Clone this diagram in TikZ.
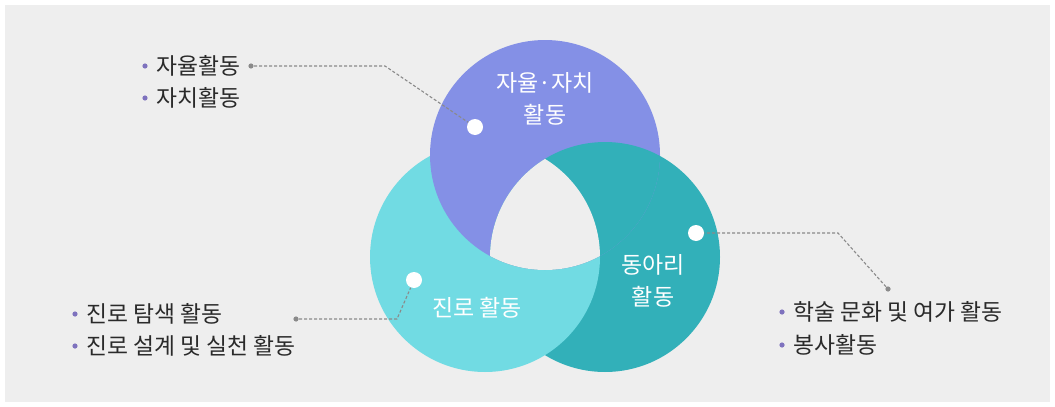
\documentclass[tikz,border=0pt]{standalone}
\usepackage{fontspec}
\setmainfont{Noto Sans CJK KR}
\usetikzlibrary{positioning}
\definecolor{panelgray}{HTML}{EEEEEE}
\definecolor{jachi}{HTML}{8490E6}
\definecolor{jinro}{HTML}{71DBE3}
\definecolor{dongari}{HTML}{32B0B9}
\definecolor{bulletpurple}{HTML}{7E72BE}
\definecolor{leadergray}{HTML}{8A8A8A}
\definecolor{textdark}{HTML}{2A2A2A}
\def\rr{57.5pt}
\tikzset{
  hole/.style={fill=white, circle, minimum size=8pt, inner sep=0},
  tipdot/.style={fill=leadergray, circle, minimum size=2.6pt, inner sep=0},
  bullet/.style={fill=bulletpurple, circle, minimum size=2.6pt, inner sep=0},
  leader/.style={draw=leadergray, dash pattern=on 1.5pt off 1pt, line width=0.55pt},
  circlelabel/.style={white, font=\fontsize{11.5}{16}\selectfont, align=center, inner sep=0},
  item/.style={textdark, font=\fontsize{11.4}{12}\selectfont, anchor=west, inner sep=0},
}
\newcommand\actitem[4]{%
    \node [bullet] (#1) at (#2,#3) {};
    \node [item, right=4pt of #1] (#1text) {#4};
}

\begin{document}
\begin{tikzpicture}[x=0.5pt, y=-0.5pt]

\useasboundingbox (0,0) rectangle (1055,407);
\fill [white] (0,0) rectangle (1055,407);
\fill [panelgray] (5,5) rectangle (1050,402);

% Circles
\coordinate (jachic)   at (545,155);
\coordinate (jinroc)   at (485,257);
\coordinate (dongaric) at (605,257);

\fill [dongari] (dongaric) circle [radius=\rr];
\fill [jinro]   (jinroc)   circle [radius=\rr];
\fill [jachi]   (jachic)   circle [radius=\rr];
\begin{scope}
    \clip (jachic) circle [radius=\rr];
    \fill [dongari] (dongaric) circle [radius=\rr];
\end{scope}
\begin{scope}
    \clip (jachic) circle [radius=\rr];
    \clip (dongaric) circle [radius=\rr];
    \fill [panelgray] (jinroc) circle [radius=\rr];
\end{scope}

\node [circlelabel] (jachilabel)   at (545,99)  {자율·자치\\활동};
\node [circlelabel] (dongarilabel) at (653,281) {동아리\\활동};
\node [circlelabel] (jinrolabel)   at (477,308) {진로 활동};

% Leaders
\node [hole] (jachihole)   at (475,127) {};
\node [hole] (dongarihole) at (696,233) {};
\node [hole] (jinrohole)   at (414,280) {};

\node [tipdot] (jachitip) at (251,66) {};
\coordinate (jachibend) at (385,66);
\node [tipdot] (dongaritip) at (888,289) {};
\coordinate (dongaribend) at (838,233);
\node [tipdot] (jinrotip) at (296,319) {};
\coordinate (jinrobend) at (397,319);

\draw [leader] (jachitip) -- (jachibend) -- (jachihole);
\draw [leader] (dongaritip) -- (dongaribend) -- (dongarihole);
\draw [leader] (jinrotip) -- (jinrobend) -- (jinrohole);

% Lists
\actitem{ja}{145}{66}{자율활동}
\actitem{jb}{145}{98}{자치활동}
\actitem{da}{782}{312}{학술 문화 및 여가 활동}
\actitem{db}{782}{345}{봉사활동}
\actitem{ra}{75}{314}{진로 탐색 활동}
\actitem{rb}{75}{346}{진로 설계 및 실천 활동}

\end{tikzpicture}
\end{document}
